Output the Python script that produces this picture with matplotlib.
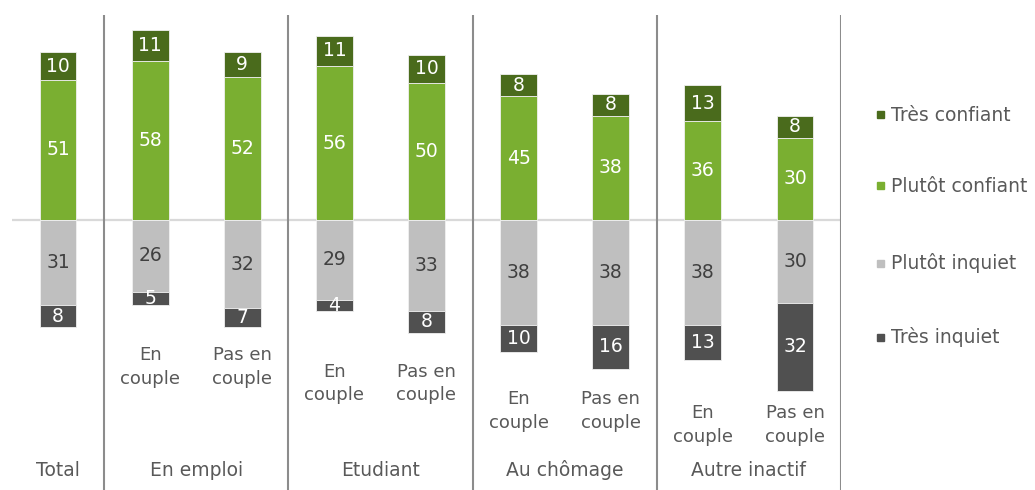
import matplotlib
matplotlib.use("Agg")
import matplotlib.pyplot as plt
import matplotlib.transforms as mtransforms

# ---- data ----
groups = ["Total", "En emploi", "Etudiant", "Au chômage", "Autre inactif"]
group_sizes = [1, 2, 2, 2, 2]
sub_labels = ["", "En\ncouple", "Pas en\ncouple", "En\ncouple", "Pas en\ncouple",
              "En\ncouple", "Pas en\ncouple", "En\ncouple", "Pas en\ncouple"]
tres_confiant = [10, 11, 9, 11, 10, 8, 8, 13, 8]
plutot_confiant = [51, 58, 52, 56, 50, 45, 38, 36, 30]
plutot_inquiet = [31, 26, 32, 29, 33, 38, 38, 38, 30]
tres_inquiet = [8, 5, 7, 4, 8, 10, 16, 13, 32]
series_names = ["Très confiant", "Plutôt confiant", "Plutôt inquiet", "Très inquiet"]

# ---- style ----
c_tc = "#4a6b1c"
c_pc = "#7aaf31"
c_pi = "#bfbfbf"
c_ti = "#505050"
txt = "#595959"
plt.rcParams["font.family"] = ["DejaVu Sans"]
fs = 13.5

W, H = 1035, 490
fig = plt.figure(figsize=(W / 100, H / 100), dpi=100)
ax_left, ax_right = 12 / W, 841 / W
ax_top = 1 - 15 / H
ax = fig.add_axes([ax_left, 0, ax_right - ax_left, ax_top])

px = 2.75  # pixels per unit
ax.set_xlim(-0.5, 8.5)
ax.set_ylim(-(H - 220) / px, (220 - 15) / px)
ax.axis("off")

n = len(tres_confiant)
x = list(range(n))
bw = 0.4
ek = dict(edgecolor="#f0f0f0", linewidth=0.6)

neg_pi = [-v for v in plutot_inquiet]
neg_ti = [-v for v in tres_inquiet]
b_pc = ax.bar(x, plutot_confiant, bw, color=c_pc, zorder=3, **ek)
b_tc = ax.bar(x, tres_confiant, bw, bottom=plutot_confiant, color=c_tc, zorder=3, **ek)
b_pi = ax.bar(x, neg_pi, bw, color=c_pi, zorder=3, **ek)
b_ti = ax.bar(x, neg_ti, bw, bottom=neg_pi, color=c_ti, zorder=3, **ek)

for bars, vals, col in [(b_pc, plutot_confiant, "white"), (b_tc, tres_confiant, "white"),
                        (b_pi, plutot_inquiet, "#404040"), (b_ti, tres_inquiet, "white")]:
    ax.bar_label(bars, labels=[str(v) for v in vals], label_type="center",
                 color=col, fontsize=fs, zorder=4)

ax.plot([-0.5, 8.5], [0, 0], color="#d9d9d9", lw=1.6, zorder=1)

bounds = []
idx = 0
for g in group_sizes:
    idx += g
    bounds.append(idx - 0.5)
for b in bounds:
    ax.axvline(b, ymin=0, ymax=1, color="#8c8c8c", lw=1.5, zorder=2)

sub_y = [None, -53.5, -53.5, -59.5, -59.5, -69.5, -69.5, -74.5, -74.5]
for i in range(n):
    if sub_labels[i]:
        ax.text(x[i], sub_y[i], sub_labels[i], ha="center", va="center",
                fontsize=fs - 0.5, color=txt, linespacing=1.4)

trans = mtransforms.blended_transform_factory(ax.transData, ax.transAxes)
start = 0
for g, sz in zip(groups, group_sizes):
    center = start + (sz - 1) / 2
    ax.text(center, (H - 470) / (H - 15), g, transform=trans, ha="center", va="center",
            fontsize=fs, color=txt)
    start += sz

colors = [c_tc, c_pc, c_pi, c_ti]
leg_y = [115, 186, 263, 337]
for name, col, yy in zip(series_names, colors, leg_y):
    fy = 1 - yy / H
    fig.patches.append(plt.Rectangle((877 / W, fy - 3.5 / H), 7 / W, 7 / H,
                                     transform=fig.transFigure, color=col, figure=fig))
    fig.text(891 / W, fy, name, ha="left", va="center", fontsize=fs, color=txt)

fig.savefig("out.png", dpi=100)
